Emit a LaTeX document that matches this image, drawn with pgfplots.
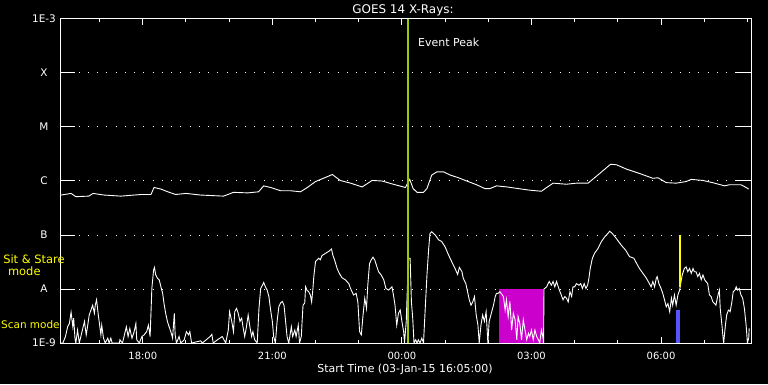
\documentclass[border=0pt]{standalone}
\usepackage{pgfplots}
\pgfplotsset{compat=1.18}
\usepackage{fontspec}
\setmainfont{DejaVu Sans}
\definecolor{evgreen}{RGB}{153,204,0}
\definecolor{magbox}{RGB}{204,0,204}
\definecolor{bluebar}{RGB}{85,85,255}
\definecolor{ylw}{RGB}{255,255,0}
\begin{document}
\begin{tikzpicture}[x=1bp,y=1bp]
\fill[black] (0,0) rectangle (768,384);
\begin{axis}[
  at={(60bp,41bp)}, anchor=south west,
  width=691bp, height=324bp, scale only axis,
  xmin=-7.9167, xmax=8.0833, ymin=-9, ymax=-3,
  axis line style={white, line width=1bp},
  xtick={-6,-3,0,3,6},
  xticklabels={18:00,21:00,00:00,03:00,06:00},
  minor xtick={-7,-5,-4,-2,-1,1,2,4,5,7,8},
  major tick length=6bp, minor tick length=3bp,
  xtick style={white, line width=1bp},
  xticklabel style={text=white, font=\fontsize{10}{12}\selectfont, anchor=base, yshift=-16bp},
  ytick={-9,-8,-7,-6,-5,-4,-3}, yticklabels={},
  ytick style={draw=none},
  ymajorgrids,
  grid style={white, line width=1bp, dash pattern=on 1bp off 8.25bp},
]
% flare-mode box
\addplot[fill=magbox, draw=none] coordinates {(2.247,-9) (2.247,-8) (3.286,-8) (3.286,-9)} --cycle;
% long channel (upper)
\addplot[white, line width=0.9bp] coordinates {
(-7.89,-6.26) (-7.66,-6.23) (-7.55,-6.29) (-7.25,-6.28) (-7.15,-6.23) (-6.90,-6.26) (-6.51,-6.28) (-6.04,-6.25) (-5.81,-6.25) (-5.74,-6.12) (-5.58,-6.15) (-5.42,-6.20) (-5.24,-6.25) (-5.00,-6.23) (-4.66,-6.26) (-4.13,-6.28) (-3.90,-6.21) (-3.57,-6.22) (-3.32,-6.20) (-3.20,-6.09) (-3.04,-6.12) (-2.81,-6.18) (-2.58,-6.18) (-2.35,-6.20) (-2.19,-6.12) (-2.00,-6.01) (-1.82,-5.95) (-1.61,-5.88) (-1.43,-5.99) (-1.19,-6.04) (-0.92,-6.11) (-0.69,-5.99) (-0.46,-6.00) (-0.20,-6.06) (0.08,-6.12) (0.18,-5.97) (0.26,-6.14) (0.35,-6.21) (0.50,-6.21) (0.58,-6.14) (0.69,-5.89) (0.81,-5.83) (0.96,-5.83) (1.12,-5.89) (1.31,-5.94) (1.50,-6.00) (1.73,-6.07) (1.92,-6.14) (2.04,-6.14) (2.19,-6.09) (2.43,-6.11) (2.69,-6.14) (2.96,-6.17) (3.23,-6.19) (3.35,-6.12) (3.50,-6.04) (3.81,-6.06) (4.04,-6.04) (4.31,-6.04) (4.58,-5.86) (4.83,-5.69) (4.97,-5.70) (5.20,-5.78) (5.50,-5.86) (5.81,-5.95) (5.93,-5.94) (6.12,-6.03) (6.35,-6.04) (6.58,-6.01) (6.70,-5.97) (6.97,-5.99) (7.24,-6.04) (7.47,-6.09) (7.58,-6.07) (7.85,-6.07) (7.97,-6.12) (8.03,-6.15)
};
% short channel (lower)
\addplot[white, line width=0.9bp] coordinates {
(-7.89,-9.0) (-7.85,-9.0) (-7.79,-8.88) (-7.74,-8.70) (-7.70,-8.64) (-7.66,-8.43) (-7.62,-8.70) (-7.60,-8.54) (-7.57,-8.91) (-7.55,-9.0) (-7.51,-8.76) (-7.47,-9.0) (-7.41,-8.80) (-7.35,-8.60) (-7.31,-8.85) (-7.28,-8.70) (-7.24,-8.48) (-7.20,-8.39) (-7.16,-8.30) (-7.12,-8.45) (-7.10,-8.30) (-7.07,-8.20) (-7.03,-8.48) (-7.01,-8.60) (-6.97,-8.85) (-6.95,-8.67) (-6.91,-8.91) (-6.87,-9.0) (-6.81,-8.91) (-6.78,-9.0) (-6.74,-8.91) (-6.71,-9.0) (-6.54,-9.0) (-6.53,-8.94) (-6.47,-9.0) (-6.38,-8.70) (-6.34,-8.88) (-6.30,-8.73) (-6.25,-8.91) (-6.20,-8.79) (-6.16,-8.64) (-6.14,-8.94) (-6.08,-9.0) (-6.02,-8.88) (-5.97,-8.85) (-5.91,-8.79) (-5.87,-8.67) (-5.83,-8.88) (-5.79,-7.99) (-5.75,-7.65) (-5.73,-7.60) (-5.70,-7.74) (-5.66,-7.80) (-5.62,-7.83) (-5.58,-7.96) (-5.54,-8.08) (-5.51,-8.26) (-5.47,-8.45) (-5.43,-8.60) (-5.39,-8.70) (-5.35,-8.79) (-5.31,-8.91) (-5.27,-8.45) (-5.25,-8.85) (-5.22,-9.0) (-5.16,-8.88) (-5.12,-9.0) (-5.04,-8.94) (-4.99,-8.79) (-4.94,-8.85) (-4.91,-8.79) (-4.87,-9.0) (-4.66,-8.96) (-4.62,-9.0) (-4.44,-8.88) (-4.40,-8.84) (-4.37,-9.0) (-4.27,-8.94) (-4.16,-8.88) (-4.08,-9.0) (-4.02,-8.76) (-3.99,-8.42) (-3.94,-8.60) (-3.90,-8.79) (-3.87,-8.42) (-3.83,-8.36) (-3.79,-8.45) (-3.75,-8.60) (-3.71,-8.54) (-3.68,-8.70) (-3.64,-8.88) (-3.60,-8.70) (-3.56,-8.48) (-3.52,-8.70) (-3.48,-8.88) (-3.45,-8.79) (-3.41,-8.94) (-3.35,-9.0) (-3.31,-8.36) (-3.27,-7.99) (-3.23,-7.93) (-3.20,-7.88) (-3.16,-7.96) (-3.12,-8.02) (-3.08,-8.14) (-3.04,-8.39) (-3.00,-8.60) (-2.97,-8.88) (-2.93,-9.0) (-2.89,-8.60) (-2.85,-8.33) (-2.81,-8.26) (-2.77,-8.23) (-2.73,-8.30) (-2.70,-8.54) (-2.66,-8.88) (-2.62,-9.0) (-2.56,-8.70) (-2.53,-8.88) (-2.48,-8.76) (-2.45,-8.88) (-2.40,-8.67) (-2.37,-9.0) (-2.33,-8.88) (-2.29,-8.30) (-2.25,-8.26)
(-2.23,-7.96) (-2.20,-8.02) (-2.16,-8.05) (-2.12,-8.11) (-2.09,-8.24) (-2.06,-7.99) (-2.04,-7.77) (-2.00,-7.49) (-1.96,-7.46) (-1.93,-7.43) (-1.89,-7.46) (-1.85,-7.38) (-1.77,-7.34) (-1.69,-7.30) (-1.63,-7.26) (-1.60,-7.37) (-1.56,-7.46) (-1.50,-7.62) (-1.45,-7.71) (-1.39,-7.79) (-1.31,-7.83) (-1.23,-7.90) (-1.19,-7.99) (-1.12,-8.11) (-1.06,-8.08) (-1.02,-8.24) (-0.98,-8.79) (-0.94,-8.85) (-0.90,-8.48) (-0.86,-8.17) (-0.82,-8.36) (-0.79,-7.93) (-0.75,-7.53) (-0.71,-7.46) (-0.67,-7.41) (-0.63,-7.46) (-0.59,-7.56) (-0.54,-7.68) (-0.48,-7.74) (-0.42,-7.83) (-0.37,-7.99) (-0.31,-8.02) (-0.23,-7.96) (-0.19,-8.14) (-0.16,-8.30) (-0.12,-8.67) (-0.08,-8.45) (-0.04,-8.39) (0.00,-8.60) (0.04,-8.79) (0.06,-9.0) (0.10,-8.60) (0.15,-7.43) (0.19,-7.43) (0.22,-8.24) (0.25,-8.54) (0.28,-9.0) (0.32,-8.94) (0.35,-9.0) (0.38,-8.94) (0.42,-9.0) (0.46,-8.91) (0.50,-9.0) (0.54,-8.36) (0.58,-7.74) (0.62,-7.25) (0.65,-6.97) (0.69,-6.94) (0.73,-6.97) (0.77,-7.00) (0.85,-7.09) (0.92,-7.12) (1.00,-7.22) (1.08,-7.37) (1.15,-7.49) (1.23,-7.62) (1.29,-7.73) (1.33,-7.60) (1.39,-7.68) (1.42,-7.80) (1.48,-7.90) (1.52,-8.05) (1.56,-8.20) (1.60,-8.30) (1.64,-8.24) (1.68,-8.14) (1.72,-8.48) (1.76,-8.67) (1.79,-9.0) (1.83,-8.67) (1.87,-8.48) (1.91,-8.60) (1.95,-8.42) (1.99,-9.0) (2.02,-8.60) (2.08,-8.42) (2.12,-8.30) (2.16,-8.14) (2.19,-8.08) (2.23,-8.08)
(2.27,-8.05) (2.35,-8.14) (2.39,-8.39) (2.42,-8.20) (2.46,-8.51) (2.50,-8.23) (2.54,-8.76) (2.58,-8.45) (2.62,-8.57) (2.66,-8.94) (2.69,-8.51) (2.73,-8.64) (2.77,-8.94) (2.81,-8.57) (2.85,-8.76) (2.89,-8.94) (2.93,-8.82) (2.96,-8.88) (3.00,-8.76) (3.04,-8.94) (3.08,-8.76) (3.12,-8.88) (3.16,-8.94) (3.19,-9.0) (3.23,-8.76) (3.27,-8.91) (3.28,-9.0)
(3.29,-8.0) (3.35,-7.96) (3.41,-7.86) (3.46,-7.93) (3.50,-7.86) (3.54,-7.96) (3.58,-7.86) (3.62,-7.96) (3.66,-8.05) (3.69,-8.11) (3.73,-8.20) (3.77,-8.14) (3.81,-8.17) (3.85,-8.24) (3.89,-8.05) (3.93,-8.14) (3.96,-7.96) (4.00,-7.96) (4.04,-7.90) (4.10,-7.93) (4.14,-7.90) (4.18,-7.99) (4.22,-7.90) (4.26,-7.99) (4.30,-7.93) (4.33,-7.80) (4.36,-7.62) (4.41,-7.43) (4.46,-7.34) (4.54,-7.25) (4.62,-7.12) (4.70,-7.03) (4.77,-6.97) (4.81,-6.93) (4.87,-6.97) (4.96,-7.06) (5.08,-7.19) (5.18,-7.28) (5.27,-7.40) (5.37,-7.43) (5.43,-7.52) (5.50,-7.62) (5.58,-7.71) (5.66,-7.80) (5.73,-7.90) (5.77,-7.96) (5.81,-7.86) (5.85,-7.96) (5.89,-7.80) (5.91,-7.77) (5.95,-7.90) (6.00,-7.99) (6.04,-8.08) (6.08,-8.20) (6.12,-8.33) (6.16,-8.27) (6.20,-8.42) (6.24,-8.17) (6.27,-8.30) (6.31,-8.11) (6.35,-8.30) (6.39,-8.11) (6.43,-8.02) (6.47,-7.83) (6.49,-7.74) (6.54,-7.62) (6.58,-7.59) (6.62,-7.68) (6.66,-7.62) (6.70,-7.71) (6.74,-7.62) (6.77,-7.68) (6.81,-7.68) (6.85,-7.77) (6.89,-7.71) (6.93,-7.83) (6.97,-7.74) (7.01,-7.83) (7.04,-7.86) (7.08,-7.90) (7.12,-8.11) (7.16,-8.14) (7.20,-8.24) (7.24,-8.27) (7.27,-8.30) (7.31,-8.14) (7.35,-8.02) (7.37,-8.36) (7.41,-8.67) (7.43,-8.85) (7.45,-9.0) (7.49,-8.67) (7.52,-8.48) (7.56,-8.39) (7.60,-8.42) (7.64,-8.24) (7.67,-8.05) (7.71,-8.02) (7.74,-7.96) (7.77,-8.02) (7.81,-7.99) (7.85,-8.11) (7.89,-8.17) (7.93,-8.36) (7.97,-8.67) (8.00,-9.0) (8.03,-8.91) (8.04,-8.73)
};
% scan-mode marker and sit & stare marker
\addplot[fill=bluebar, draw=none] coordinates {(6.35,-9) (6.35,-8.39) (6.43,-8.39) (6.43,-9)} --cycle;
\addplot[ylw, line width=2bp] coordinates {(6.43,-7.0) (6.43,-7.96)};
% event peak
\addplot[evgreen, line width=2bp] coordinates {(0.134,-9) (0.134,-3)};
\end{axis}
\begin{axis}[
  at={(60bp,41bp)}, anchor=south west,
  width=691bp, height=324bp, scale only axis,
  xmin=-7.9167, xmax=8.0833, ymin=-9, ymax=-3,
  hide x axis,
  axis line style={white, line width=1bp},
  ytick={-9,-8,-7,-6,-5,-4,-3},
  yticklabels={1E-9,A,B,C,M,X,1E-3},
  major tick length=15bp,
  ytick style={white, line width=1bp},
  yticklabel style={text=white, font=\fontsize{10.5}{12}\selectfont, anchor=center, xshift=-16bp},
]
\end{axis}
\node[anchor=base, white, font=\fontsize{12}{14}\selectfont] at (403,370.7) {GOES 14 X-Rays:};
\node[anchor=base, white, font=\fontsize{11}{13}\selectfont] at (405,12) {Start Time (03-Jan-15 16:05:00)};
\node[anchor=base west, inner sep=0pt, white, font=\fontsize{11}{13}\selectfont] at (418,337.3) {Event Peak};
\node[anchor=base, inner sep=0pt, ylw, font=\fontsize{11.5}{13}\selectfont] at (34,120.7) {Sit \& Stare};
\node[anchor=base, inner sep=0pt, ylw, font=\fontsize{11.5}{13}\selectfont] at (24.3,109) {mode};
\node[anchor=base west, inner sep=0pt, ylw, font=\fontsize{10.5}{12}\selectfont] at (1,56) {Scan mode};
\end{tikzpicture}
\end{document}
